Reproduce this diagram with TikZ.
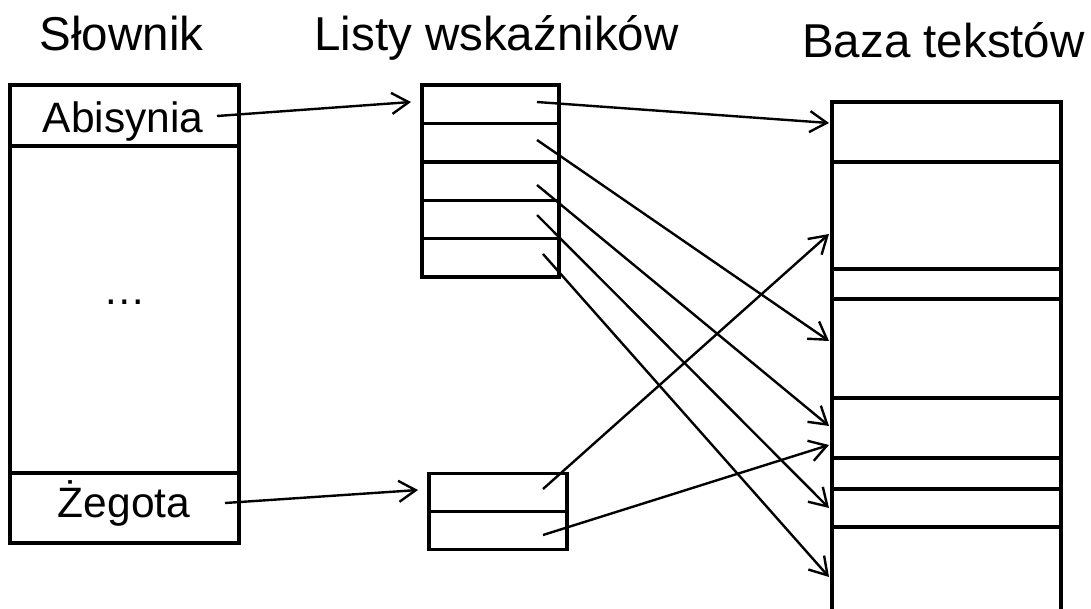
\documentclass[tikz,border=0pt]{standalone}
\usepackage{fontspec}
\setmainfont{Liberation Sans}
\usetikzlibrary{arrows.meta}

\tikzset{
  cell/.style={draw, line width=3.4pt, rectangle, inner sep=0pt, outer sep=0pt, anchor=north west},
  title/.style={font=\fontsize{47.5}{56}\selectfont, inner sep=0pt, anchor=base},
  lbl/.style={font=\fontsize{42.5}{50}\selectfont, inner sep=0pt, anchor=base},
  ptr/.style={line width=2.4pt, -{Straight Barb[length=17pt,width=21pt]}}
}

% \cellbox{name}{left}{top}{right}{bottom}
\newcommand{\cellbox}[5]{%
  \node[cell, minimum width={(#4-#2)*1pt}, minimum height={(#5-#3)*1pt}] (#1) at (#2,#3) {};}

\begin{document}
\begin{tikzpicture}[x=1pt, y=-1pt]
\useasboundingbox (0,0) rectangle (1091,608);
\clip (0,0) rectangle (1091,608);

% headings
\node[title] (hdict) at (121.5,50) {Słownik};
\node[title] (hlist) at (496.5,50) {Listy wskaźników};
\node[title] (hbase) at (943.5,57) {Baza tekstów};

% dictionary
\cellbox{d1}{10}{85}{239}{146}
\cellbox{d2}{10}{146}{239}{473}
\cellbox{d3}{10}{473}{239}{543}
\node[lbl] (abis) at (123,132) {Abisynia};
\node[lbl] (dots) at (124.5,304) {…};
\node[lbl] (zeg) at (124,517) {Żegota};

% pointer list of the first entry
\cellbox{l1}{422}{85}{559}{123.4}
\cellbox{l2}{422}{123.4}{559}{161.8}
\cellbox{l3}{422}{161.8}{559}{200.2}
\cellbox{l4}{422}{200.2}{559}{238.6}
\cellbox{l5}{422}{238.6}{559}{277}

% pointer list of the last entry
\cellbox{m1}{429}{473.3}{567}{511.7}
\cellbox{m2}{429}{511.7}{567}{549.3}

% text base
\cellbox{t1}{832}{102}{1061}{162}
\cellbox{t2}{832}{162}{1061}{269}
\cellbox{t3}{832}{269}{1061}{299}
\cellbox{t4}{832}{299}{1061}{398}
\cellbox{t5}{832}{398}{1061}{458}
\cellbox{t6}{832}{458}{1061}{489}
\cellbox{t7}{832}{489}{1061}{527}
\cellbox{t8}{832}{527}{1061}{640}

% pointer origins
\coordinate (abisOut) at (217,116);
\coordinate (zegOut) at (225,503);
\coordinate (l1o) at (537,102);
\coordinate (l2o) at (537,140);
\coordinate (l3o) at (537,185);
\coordinate (l4o) at (537,215);
\coordinate (l5o) at (543,254);
\coordinate (m1o) at (543,489);
\coordinate (m2o) at (543,535);

% pointer targets
\coordinate (l1in) at (411,102);
\coordinate (m1in) at (418,490);
\coordinate (t1in) at (829,123);
\coordinate (t2in) at (829,234);
\coordinate (t4in) at (829,341);
\coordinate (t5a) at (829,426);
\coordinate (t5b) at (829,445);
\coordinate (t7in) at (829,508);
\coordinate (t8in) at (829,577);

\draw[ptr] (abisOut) -- (l1in);
\draw[ptr] (zegOut) -- (m1in);
\draw[ptr] (l1o) -- (t1in);
\draw[ptr] (l2o) -- (t4in);
\draw[ptr] (l3o) -- (t5a);
\draw[ptr] (l4o) -- (t7in);
\draw[ptr] (l5o) -- (t8in);
\draw[ptr] (m1o) -- (t2in);
\draw[ptr] (m2o) -- (t5b);
\end{tikzpicture}
\end{document}
